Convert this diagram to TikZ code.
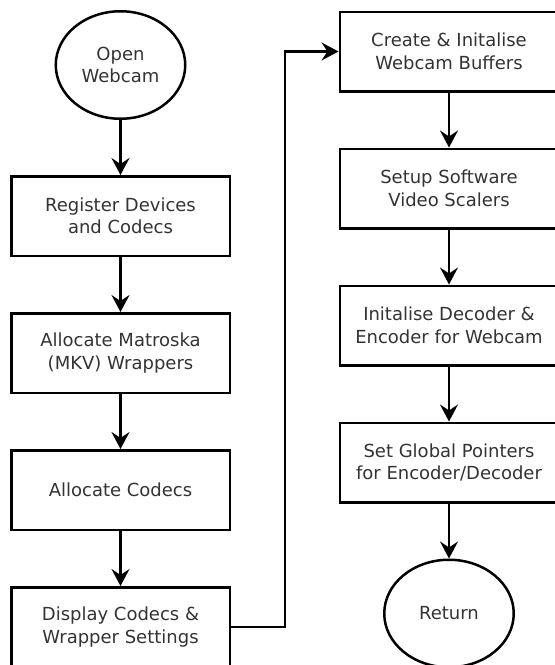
\documentclass[tikz,border=0pt]{standalone}
\usepackage{fontspec}
\setmainfont{DejaVu Sans}
\usetikzlibrary{positioning,arrows.meta,shapes.geometric}

\begin{document}
\begin{tikzpicture}[
  x=1pt, y=-1pt,
  node distance=55pt,
  every node/.style={font=\fontsize{18}{22.5}\selectfont, align=center, text=black!80},
  block/.style={draw=black, line width=2.5pt, minimum width=218.5pt, minimum height=79.5pt},
  terminal/.style={draw=black, ellipse, line width=2.5pt, minimum width=129.5pt, minimum height=107.5pt},
  flow/.style={line width=2.5pt, -{Stealth[length=17pt, width=18pt, inset=6pt]}},
]
\useasboundingbox (0,0) rectangle (555,665);

% ─── LEFT COLUMN ───
\node[terminal] (open) at (120.5,65) {Open\\Webcam};
\node[block, below=of open] (register) {Register Devices\\and Codecs};
\node[block, below=of register] (matroska) {Allocate Matroska\\(MKV) Wrappers};
\node[block, below=of matroska] (codecs) {Allocate Codecs};
\node[block, below=of codecs] (display) {Display Codecs \&\\Wrapper Settings};

% ─── RIGHT COLUMN ───
\node[block] (create) at (449,51.5) {Create \& Initalise\\Webcam Buffers};
\node[block, below=of create] (scalers) {Setup Software\\Video Scalers};
\node[block, below=of scalers] (coder) {Initalise Decoder \&\\Encoder for Webcam};
\node[block, below=of coder] (pointers) {Set Global Pointers\\for Encoder/Decoder};
\node[terminal, below=of pointers] (return) {Return};

% ─── CONNECTORS ───
\draw[flow] (open) -- (register);
\draw[flow] (register) -- (matroska);
\draw[flow] (matroska) -- (codecs);
\draw[flow] (codecs) -- (display);
\draw[flow] (display.east) -- ++(54,0) |- (create.west);
\draw[flow] (create) -- (scalers);
\draw[flow] (scalers) -- (coder);
\draw[flow] (coder) -- (pointers);
\draw[flow] (pointers) -- (return);

\end{tikzpicture}
\end{document}
